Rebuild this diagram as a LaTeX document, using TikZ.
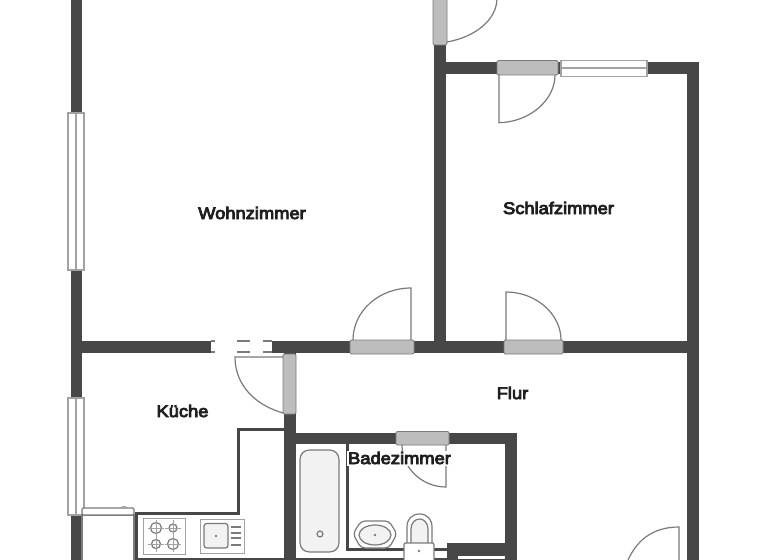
\documentclass[tikz,border=0pt]{standalone}
\usepackage{fontspec}
\newfontfamily\lblfont[FakeBold=5,FakeStretch=1.09]{Liberation Sans}
\definecolor{wallc}{HTML}{474747}
\definecolor{slabc}{HTML}{BDBDBD}
\definecolor{linec}{HTML}{7A7A7A}
\definecolor{basinc}{HTML}{F2F2F2}
\tikzset{
  wall/.style={fill=wallc},
  slab/.style={fill=slabc,draw=linec,line width=0.7pt,rounded corners=1pt},
  win/.style={fill=white,draw=linec!70!white,line width=1pt},
  thin/.style={draw=linec,line width=0.9pt},
  fine/.style={draw=linec!70!white,line width=0.6pt},
  part/.style={fill=wallc},
  lbl/.style={font=\lblfont\fontsize{12.6}{14}\selectfont,text=black!88,inner sep=0.5pt}
}
\begin{document}
\begin{tikzpicture}[x=0.75pt,y=-0.75pt]
\useasboundingbox (0,0) rectangle (768,560);
\fill[white] (0,0) rectangle (768,560);
\clip (0,0) rectangle (768,560);
% walls
\fill[wall] (71,-5) rectangle (82,565);
\fill[wall] (71,341) rectangle (699,353);
\fill[wall] (434,45) rectangle (446,345);
\fill[wall] (434,62) rectangle (698,74);
\fill[wall] (687,62) rectangle (699,565);
\fill[wall] (283.5,350) rectangle (295.5,565);
\fill[wall] (284,433) rectangle (517,444);
\fill[wall] (505,433) rectangle (517,565);
\fill[wall] (447,543) rectangle (517,555);
\fill[wall] (447,543) rectangle (457,565);
\fill[wall] (457,555) rectangle (505,565);
\fill[white] (458,556) rectangle (505,559);
% kitchen unit
\fill[part] (284,427.5) rectangle (237,430.5);
\fill[part] (237,427.5) rectangle (240,515);
\fill[part] (240,512) rectangle (135,515);
\fill[part] (135,512) rectangle (138,565);
\fill[part] (135,558) rectangle (284,565);
% windows
\draw[win] (68,113) rectangle (84,270);
\draw[win] (76,113) -- (76,270);
\draw[win] (68,398) rectangle (84,515);
\draw[win] (76,398) -- (76,515);
\draw[win] (561,60.5) rectangle (647,76.5);
\draw[win] (561,68) -- (647,68);
% dashed window
\fill[white] (211,340.5) rectangle (272,353);
\foreach \ya in {341,352}{
  \draw[thin] (211,\ya) -- (215,\ya) (237,\ya) -- (250,\ya) (263,\ya) -- (272,\ya);
}
% door slabs
\draw[slab] (433,-5) rectangle (447,45);
\draw[slab] (497,60.5) rectangle (558,75);
\draw[slab] (350,340) rectangle (414,354);
\draw[slab] (504,340) rectangle (563,354);
\draw[slab] (283,354) rectangle (296,414);
\draw[slab] (396,431.5) rectangle (449,445);
% door swings
\draw[thin] (447,42) .. controls (475,37) and (497,20) .. (497,-2);
\draw[thin] (499,75) -- (499,122.7) .. controls (530,122) and (555,100) .. (555,75);
\draw[thin] (411,340) -- (411,288) .. controls (379,288) and (353,311) .. (353,340);
\draw[thin] (506,340) -- (506,292) .. controls (536,292) and (561,314) .. (561,340);
\draw[thin] (283,357) -- (235,357) .. controls (235,385) and (255,405) .. (283,413);
\draw[thin] (446,445) -- (446,487) .. controls (422,487) and (402,468) .. (402,445);
\draw[thin] (679,565) -- (679,527) .. controls (652,527) and (635,541) .. (626,565);
% fridge
\draw[thin] (82,515) rectangle (134,565);
\draw[thin,fill=white,rounded corners=1pt] (82,508) rectangle (134,515);
\draw[fine] (120,508) .. controls (122,506) and (126,506) .. (128,508);
% hob
\draw[fine] (143,518) rectangle (185,554);
\foreach \cx/\cy/\r in {156/528/5.5,173/528/4,156/544/4.5,173/544/5.5}{
  \draw[thin] (\cx,\cy) circle[radius=\r*0.75pt];
  \draw[fine] (\cx-8,\cy) -- (\cx+8,\cy) (\cx,\cy-8) -- (\cx,\cy+8);
}
% sink
\draw[fine] (200,519) rectangle (244,553);
\draw[thin,fill=basinc,rounded corners=2pt] (204,523.5) rectangle (228,548);
\fill[linec] (216,536) circle[radius=1.1pt];
\foreach \ly in {527,533,538,545}{\draw[thin] (231,\ly) -- (241,\ly);}
% bathroom
\draw[thin,fill=basinc,rounded corners=7pt] (300,450) rectangle (339,552);
\draw[thin] (320,534) circle[radius=2.2pt];
\fill[part] (345.5,444) rectangle (348.5,550);
\fill[part] (346,548) rectangle (447,551);
\fill[part] (296,557.5) rectangle (447,565);
\draw[thin,fill=white,rounded corners=3pt] (361,521) -- (389,521) -- (397,534) -- (389,548) -- (361,548) -- (353,534) -- cycle;
\draw[thin,fill=basinc] (375,535) ellipse[x radius=12pt,y radius=7.5pt];
\fill[linec] (375,535) circle[radius=1.1pt];
\draw[thin,fill=white] (407,543) -- (407,527) .. controls (407,519) and (412,514) .. (419.5,514) .. controls (427,514) and (432,519) .. (432,527) -- (432,543);
\draw[thin,fill=basinc] (411,543) -- (411,529) .. controls (411,523) and (415,519) .. (419.5,519) .. controls (424,519) and (428,523) .. (428,529) -- (428,543);
\draw[thin,fill=white,rounded corners=1pt] (404,543) rectangle (434,565);
\fill[linec] (419,551) circle[radius=1.1pt];
% labels
\node[lbl] (wohn) at (252,213) {Wohnzimmer};
\node[lbl] (schlaf) at (558.5,208) {Schlafzimmer};
\node[lbl] (flur) at (512.5,393) {Flur};
\node[lbl] (kueche) at (182.5,411) {Küche};
\node[lbl,fill=white,inner sep=1pt] (bad) at (399.5,458) {Badezimmer};
\end{tikzpicture}
\end{document}
